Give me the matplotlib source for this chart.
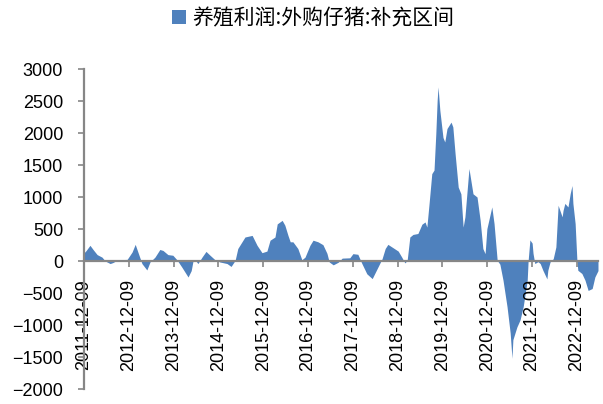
import matplotlib.pyplot as plt
from matplotlib.patches import Patch

plt.rcParams['font.family'] = ['Liberation Sans', 'Noto Sans CJK SC', 'DejaVu Sans']

# time as decimal year
year_frac = [
    2011.94, 2011.98, 2012.07, 2012.15, 2012.23, 2012.34, 2012.41, 2012.52, 2012.58, 2012.70,
    2012.90, 2013.01, 2013.08, 2013.14, 2013.23, 2013.34, 2013.41, 2013.52, 2013.63, 2013.70,
    2013.81, 2013.92, 2014.01, 2014.12, 2014.26, 2014.33, 2014.37, 2014.42, 2014.48, 2014.57,
    2014.66, 2014.75, 2014.86, 2014.97, 2015.13, 2015.22, 2015.31, 2015.37, 2015.53, 2015.69,
    2015.80, 2015.91, 2016.02, 2016.09, 2016.20, 2016.25, 2016.36, 2016.42, 2016.49, 2016.54,
    2016.60, 2016.71, 2016.80, 2016.87, 2016.98, 2017.05, 2017.16, 2017.27, 2017.36, 2017.41,
    2017.50, 2017.61, 2017.70, 2017.87, 2017.94, 2018.05, 2018.14, 2018.25, 2018.37, 2018.48,
    2018.59, 2018.66, 2018.72, 2018.83, 2018.95, 2019.03, 2019.10, 2019.15, 2019.21, 2019.28,
    2019.39, 2019.48, 2019.55, 2019.59, 2019.64, 2019.70, 2019.75, 2019.79, 2019.82, 2019.84,
    2019.88, 2019.95, 2019.99, 2020.04, 2020.13, 2020.17, 2020.22, 2020.29, 2020.35, 2020.40,
    2020.44, 2020.53, 2020.62, 2020.71, 2020.78, 2020.84, 2020.89, 2020.93, 2021.04, 2021.09,
    2021.16, 2021.22, 2021.29, 2021.38, 2021.45, 2021.49, 2021.51, 2021.60, 2021.67, 2021.74,
    2021.83, 2021.85, 2021.89, 2021.94, 2021.96, 2022.00, 2022.07, 2022.12, 2022.18, 2022.27,
    2022.29, 2022.34, 2022.41, 2022.47, 2022.52, 2022.56, 2022.61, 2022.63, 2022.67, 2022.74,
    2022.79, 2022.83, 2022.85, 2022.90, 2022.94, 2022.96, 2023.05, 2023.12, 2023.19, 2023.28,
    2023.34, 2023.41,
]
profit = [
    130, 160, 245, 170, 100, 60, 0, -40, -25, 20,
    25, 140, 260, 140, -40, -140, -15, 60, 180, 165,
    100, 90, 20, -95, -250, -150, 0, 15, -40, 60,
    150, 90, 20, -15, -40, -85, 10, 195, 375, 400,
    245, 130, 155, 325, 375, 580, 635, 560, 400, 300,
    300, 195, 20, 60, 245, 325, 300, 255, 120, -15,
    -60, -20, 45, 50, 115, 105, -40, -200, -275, -120,
    35, 195, 260, 210, 155, 60, -30, 10, 375, 415,
    430, 575, 610, 530, 900, 1365, 1420, 1990, 2510, 2720,
    2355, 1930, 1860, 2070, 2170, 2095, 1680, 1155, 1050, 530,
    690, 1445, 1050, 1000, 635, 195, 115, 505, 845, 585,
    10, -50, -300, -715, -1125, -1520, -1230, -1030, -920, -715,
    -300, 0, 330, 280, 120, -40, -10, -40, -145, -280,
    -145, -15, 35, 220, 870, 790, 690, 790, 900, 845,
    1055, 1180, 900, 585, 0, -145, -195, -300, -460, -430,
    -250, -150,
]

tick_labels = ['2011-12-09', '2012-12-09', '2013-12-09', '2014-12-09', '2015-12-09', '2016-12-09',
               '2017-12-09', '2018-12-09', '2019-12-09', '2020-12-09', '2021-12-09', '2022-12-09']
series_name = '养殖利润:外购仔猪:补充区间'

blue = '#4F81BD'
grey = '#868686'

fig = plt.figure(figsize=(6.03, 4.04), dpi=100)
ax = fig.add_axes([0.1393, 0.0371, 0.8524, 0.7921])

ax.fill_between(year_frac, profit, 0, color=blue, lw=0)

for s in ['top', 'right']:
    ax.spines[s].set_visible(False)
ax.spines['bottom'].set_position(('data', 0))
for s in ['bottom', 'left']:
    ax.spines[s].set_color(grey)
    ax.spines[s].set_linewidth(1.6)

ax.set_xlim(2011.937, 2023.41)
ax.set_ylim(-2000, 3000)
ax.set_yticks(range(-2000, 3001, 500))
ax.set_xticks([2011.937 + i for i in range(len(tick_labels))])
ax.set_xticklabels(tick_labels)

ax.tick_params(axis='y', direction='out', length=4, width=1.2, color=grey, labelsize=13, pad=11)
ax.tick_params(axis='x', direction='out', length=4, width=1.2, color=grey, labelsize=13, pad=9,
               labelrotation=90)

handle = Patch(facecolor=blue, edgecolor='none')
fig.legend([handle], [series_name], loc='center', bbox_to_anchor=(313 / 603, 1 - 18 / 404),
           frameon=False, prop={'family': ['Noto Sans CJK SC', 'DejaVu Sans'], 'size': 15},
           handlelength=0.65, handleheight=0.65, handletextpad=0.3, borderpad=0)

fig.savefig('out.png', dpi=100)
